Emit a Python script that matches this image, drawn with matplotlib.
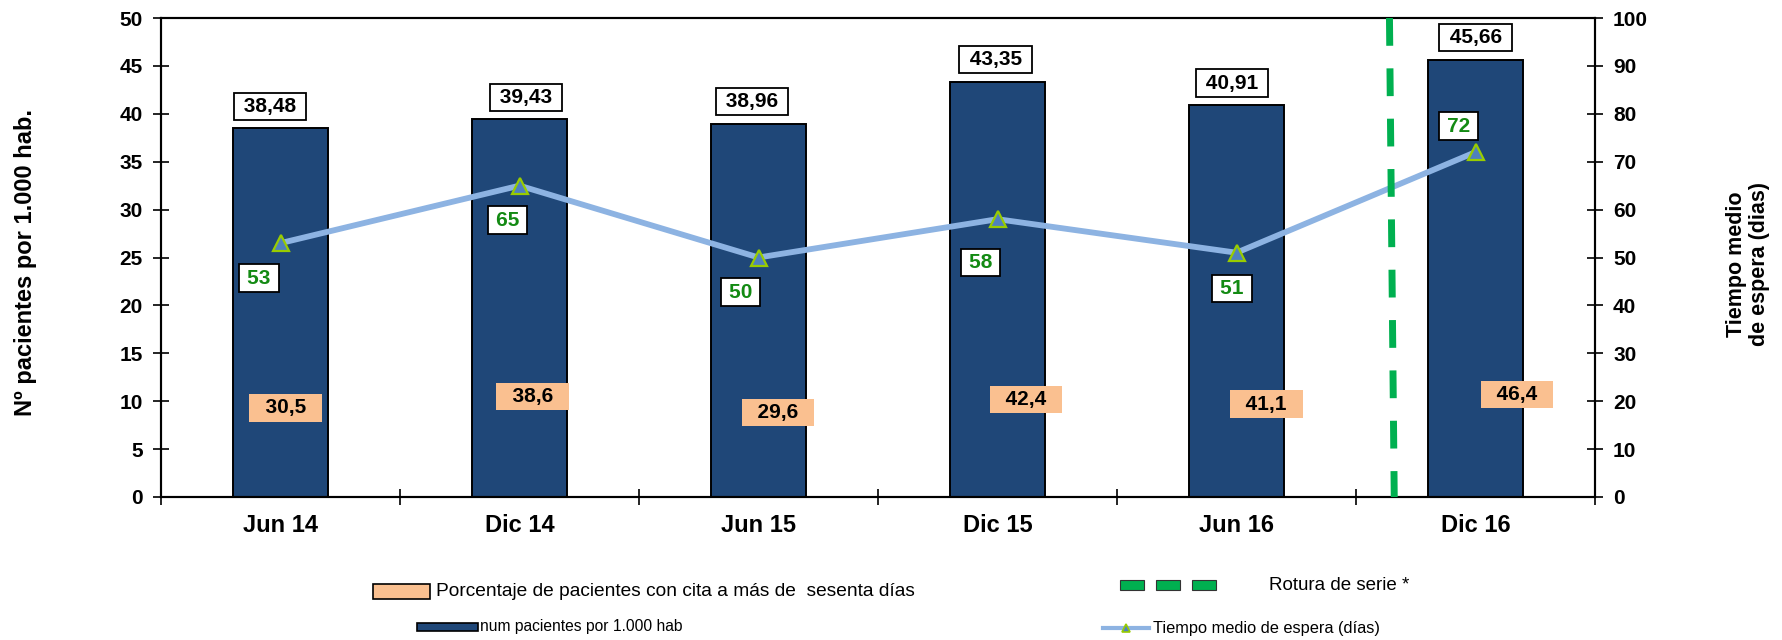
import matplotlib
matplotlib.use("Agg")
import matplotlib.pyplot as plt
from matplotlib.patches import Rectangle
from matplotlib.lines import Line2D
import numpy as np

plt.rcParams['font.family'] = ['Liberation Sans', 'DejaVu Sans']

# ---------------- data ----------------
categories = ["Jun 14", "Dic 14", "Jun 15", "Dic 15", "Jun 16", "Dic 16"]
pacientes = [38.48, 39.43, 38.96, 43.35, 40.91, 45.66]          # left axis (bars)
tiempo_medio = [53, 65, 50, 58, 51, 72]                         # right axis (line)
porcentaje_60 = [30.5, 38.6, 29.6, 42.4, 41.1, 46.4]            # orange labels
pacientes_labels = ["38,48", "39,43", "38,96", "43,35", "40,91", "45,66"]
porcentaje_labels = ["30,5", "38,6", "29,6", "42,4", "41,1", "46,4"]
rotura_pos = 4.64   # series break between Jun 16 and Dic 16

# ---------------- layout (label placement) ----------------
bar_lbl_dx = [-10.5, 6.5, -6.5, -2, -4.5, 0]          # px
line_lbl_dx = [-21.5, -12, -18, -17, -4.5, -17]        # px
line_lbl_dy = [-35, -34.5, -34.5, -43, -36, 26]        # px
pct_lbl_dx = [5, 13, 19.5, 28.5, 30, 41.5]             # px
pct_lbl_y = [9.3, 10.5, 8.8, 10.2, 9.7, 10.7]          # left-axis units

W, H, DPI = 1783, 640, 100
fig = plt.figure(figsize=(W / DPI, H / DPI), dpi=DPI)
L, R, T, B = 161, 1595, 18, 497
ax = fig.add_axes([L / W, 1 - B / H, (R - L) / W, (B - T) / H])
ax2 = ax.twinx()

navy = '#1F4778'
orange = '#FAC090'
lineblue = '#8DB3E2'
green = '#00B050'
labelgreen = '#138A13'
thin = '\u2009'

x = np.arange(len(categories))
ax.bar(x, pacientes, width=0.4, color=navy, edgecolor='black', linewidth=1.4, zorder=2)
ax.set_xlim(-0.5, len(categories) - 0.5)
ax.set_ylim(0, 50)
ax.set_yticks(np.arange(0, 51, 5))
ax2.set_ylim(0, 100)
ax2.set_yticks(np.arange(0, 101, 10))

ax2.plot(x, tiempo_medio, color=lineblue, linewidth=4.2, marker='^', markersize=12,
         markerfacecolor='#4F81BD', markeredgecolor='#99CC00', markeredgewidth=1.6,
         zorder=3, solid_capstyle='round')

# series break line
ax2.plot([rotura_pos, rotura_pos + 0.02], [100, 0], color=green, linewidth=5,
         linestyle=(0, (4.0, 3.25)), zorder=6)

# bar value labels
for i, v in enumerate(pacientes):
    ax.annotate(" " + pacientes_labels[i] + " ", xy=(x[i], v), xytext=(bar_lbl_dx[i], 22),
                textcoords='offset pixels', ha='center', va='center',
                fontsize=15, fontweight='bold', color='black', zorder=7,
                bbox=dict(boxstyle='square,pad=0.2', fc='white', ec='black', lw=1.3),
                annotation_clip=False)

# line value labels
for i, v in enumerate(tiempo_medio):
    ax2.annotate(thin + str(v) + thin, xy=(x[i], v), xytext=(line_lbl_dx[i], line_lbl_dy[i]),
                 textcoords='offset pixels', ha='center', va='center',
                 fontsize=15, fontweight='bold', color=labelgreen, zorder=7,
                 bbox=dict(boxstyle='square,pad=0.2', fc='white', ec='black', lw=1.3))

# percentage labels
for i, v in enumerate(porcentaje_60):
    ax2.annotate("  " + porcentaje_labels[i] + "  ", xy=(x[i], pct_lbl_y[i] * 2),
                 xytext=(pct_lbl_dx[i], 0), textcoords='offset pixels',
                 ha='center', va='center', fontsize=15, fontweight='bold',
                 color='black', zorder=7,
                 bbox=dict(boxstyle='square,pad=0.2', fc=orange, ec='none'))

# axes styling
for a in (ax, ax2):
    for s in a.spines.values():
        s.set_linewidth(1.5)
        s.set_color('black')
ax.set_xticks(x)
ax.set_xticklabels(categories, fontsize=17, fontweight='bold')
ax.tick_params(axis='x', which='major', length=0, pad=12)
ax.set_xticks(np.arange(-0.5, len(categories), 1.0), minor=True)
ax.tick_params(axis='x', which='minor', direction='inout', length=12, width=1.2)
ax.tick_params(axis='y', direction='inout', length=12, width=1.2, labelsize=15, pad=7)
ax2.tick_params(axis='y', direction='inout', length=12, width=1.2, labelsize=15, pad=7)
for lab in ax.get_yticklabels() + ax2.get_yticklabels():
    lab.set_fontweight('bold')

fig.text(26 / W, 1 - 263 / H, "Nº pacientes por 1.000 hab.", rotation=90,
         ha='center', va='center', fontsize=17, fontweight='bold')
fig.text(1748 / W, 1 - 264 / H, "Tiempo medio\nde espera (dias)", rotation=90,
         ha='center', va='center', fontsize=15.5, fontweight='bold', linespacing=1.1)

# ---------------- legend (manual) ----------------
def fx(px):
    return px / W

def fy(py):
    return 1 - py / H

fig.add_artist(Rectangle((fx(373), fy(599)), 57 / W, 15 / H, transform=fig.transFigure,
                         fc=orange, ec='black', lw=1.2))
fig.text(fx(436), fy(591), "Porcentaje de pacientes con cita a más de  sesenta días",
         ha='left', va='center', fontsize=13.8)
fig.add_artist(Rectangle((fx(417), fy(631)), 61 / W, 8 / H, transform=fig.transFigure,
                         fc=navy, ec='black', lw=1.2))
fig.text(fx(480), fy(627), "num pacientes por 1.000 hab", ha='left', va='center', fontsize=11.25)
for gx in (1120, 1156, 1192):
    fig.add_artist(Rectangle((fx(gx), fy(590)), 24 / W, 10 / H, transform=fig.transFigure,
                             fc=green, ec='#333333', lw=0.8))
fig.text(fx(1269), fy(586), "Rotura de serie *", ha='left', va='center', fontsize=13.5)
fig.add_artist(Line2D([fx(1103), fx(1149)], [fy(628), fy(628)], transform=fig.transFigure,
                      color=lineblue, lw=3))
fig.add_artist(Line2D([fx(1126)], [fy(628)], transform=fig.transFigure, marker='^',
                      markersize=6, markerfacecolor='#4F81BD', markeredgecolor='#99CC00',
                      markeredgewidth=1.2, linestyle='none'))
fig.text(fx(1153), fy(628), "Tiempo medio de espera (días)", ha='left', va='center', fontsize=11.8)

fig.savefig("out.png", dpi=DPI, facecolor='white')
